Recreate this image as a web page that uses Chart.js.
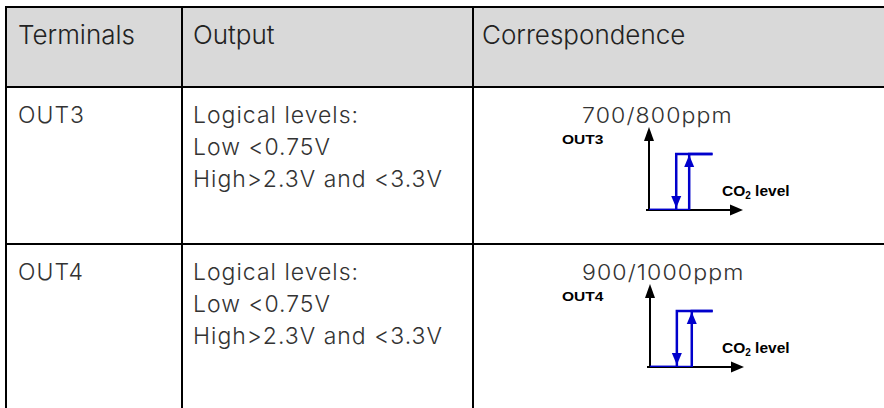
<!DOCTYPE html>
<html>
<head>
<meta charset="utf-8">
<script src="https://cdn.jsdelivr.net/npm/chart.js@4.4.0/dist/chart.umd.min.js"></script>
<style>
  html, body { margin: 0; padding: 0; background: #fff; }
  body { width: 884px; height: 408px; overflow: hidden; position: relative;
         font-family: "Inter Light", Inter, "Liberation Sans", sans-serif; font-weight: 300; color: #333; }
  .rule { position: absolute; background: #000; }
  .head { position: absolute; left: 7px; top: 8px; width: 877px; height: 78px; background: #d9d9d9; }
  .txt { position: absolute; white-space: nowrap; }
  .hd { font-size: 26px; line-height: 26px; color: #222; }
  .bd { font-size: 23px; line-height: 32px; letter-spacing: 1px; }
  .ppm { font-size: 21px; line-height: 21px; letter-spacing: 1px; transform-origin: 0 0; }
  .lbl { font-family: "Liberation Sans", Arial, sans-serif; font-weight: 700; color: #000;
         transform-origin: 0 0; }
  .lbl sub { font-size: 10px; vertical-align: -3px; line-height: 0; }
  .diagram { position: absolute; width: 240px; height: 130px; }
</style>
</head>
<body>
<div class="head"></div>
<div id="grid"></div>
<div id="texts"></div>

<script>
// table text
const headers = ["Terminals", "Output", "Correspondence"];
const outputs = ["OUT3", "OUT4"];
const outputLines = ["Logical levels:", "Low <0.75V", "High>2.3V and <3.3V"];

// hysteresis diagrams (x in ppm CO2, y: 0 = low, 1 = high)
const thresholdLabels = ["700/800ppm", "900/1000ppm"];
const fallPpm = [700, 900];
const risePpm = [800, 1000];
const lowStartPpm = [490, 720];
const highEndPpm = [980, 1140];
const axisEndPpm = [1215, 1350];
const lowLevel = 0;
const highLevel = 1;
const levelAxisMax = 1.48;

const rowTop = [88, 245];
const colLeft = [18, 193, 482];

// grid rules
const grid = document.getElementById("grid");
function rule(l, t, w, h) {
  const d = document.createElement("div");
  d.className = "rule";
  Object.assign(d.style, { left: l + "px", top: t + "px", width: w + "px", height: h + "px" });
  grid.appendChild(d);
}
rule(5, 6, 879, 2);
rule(5, 86, 879, 2);
rule(5, 243, 879, 2);
rule(5, 6, 2, 402);
rule(181, 6, 2, 402);
rule(472, 6, 2, 402);

// texts
const texts = document.getElementById("texts");
function text(cls, l, t, html) {
  const d = document.createElement("div");
  d.className = "txt " + cls;
  d.style.left = l + "px";
  d.style.top = t + "px";
  d.innerHTML = html;
  texts.appendChild(d);
  return d;
}
headers.forEach((h, i) => text("hd", colLeft[i], 22, h));
outputs.forEach((o, r) => {
  const top = rowTop[r] + 11;
  text("bd", colLeft[0], top, o);
  text("bd", colLeft[1], top, outputLines.join("<br>"));
  const dy = r * 157;
  const p = text("ppm", 582, 105 + dy, thresholdLabels[r]);
  p.style.transform = "scaleX(1.1)";
  const o1 = text("lbl", 562, 134 + dy, o);
  o1.style.fontSize = "12.5px"; o1.style.lineHeight = "12.5px";
  o1.style.transform = "scaleX(1.24)";
  const c = text("lbl", 722, 183 + dy, "CO<sub>2</sub> level");
  c.style.fontSize = "15.5px"; c.style.lineHeight = "15px";
});

// axes with arrowheads + blue arrowheads on the switching edges
const hysteresisPlugin = {
  id: "hysteresis",
  beforeDatasetsDraw(chart) {
    const { ctx, chartArea, scales } = chart;
    const x0 = scales.x.getPixelForValue(scales.x.min);
    const y0 = scales.y.getPixelForValue(lowLevel);
    ctx.save();
    ctx.strokeStyle = "#000";
    ctx.fillStyle = "#000";
    ctx.lineWidth = 2;
    ctx.beginPath();
    ctx.moveTo(x0, y0);
    ctx.lineTo(x0, chartArea.top + 10);
    ctx.moveTo(x0 - 3, y0);
    ctx.lineTo(chartArea.right - 10, y0);
    ctx.stroke();
    // y arrow
    ctx.beginPath();
    ctx.moveTo(x0, chartArea.top);
    ctx.lineTo(x0 - 5, chartArea.top + 14);
    ctx.lineTo(x0 + 5, chartArea.top + 14);
    ctx.closePath();
    ctx.fill();
    // x arrow
    ctx.beginPath();
    ctx.moveTo(chartArea.right, y0);
    ctx.lineTo(chartArea.right - 13, y0 - 5.5);
    ctx.lineTo(chartArea.right - 13, y0 + 5.5);
    ctx.closePath();
    ctx.fill();
    ctx.restore();
  },
  afterDatasetsDraw(chart) {
    const { ctx, scales } = chart;
    const i = chart.options.plugins.hysteresis.index;
    const xr = scales.x.getPixelForValue(risePpm[i]);
    const xf = scales.x.getPixelForValue(fallPpm[i]);
    const yh = scales.y.getPixelForValue(highLevel);
    const yl = scales.y.getPixelForValue(lowLevel);
    ctx.save();
    ctx.fillStyle = "#0000cc";
    // up arrow on rising edge
    ctx.beginPath();
    ctx.moveTo(xr, yh + 1);
    ctx.lineTo(xr - 5, yh + 13);
    ctx.lineTo(xr + 5, yh + 13);
    ctx.closePath();
    ctx.fill();
    // down arrow on falling edge
    ctx.beginPath();
    ctx.moveTo(xf, yl - 2);
    ctx.lineTo(xf - 5, yl - 14);
    ctx.lineTo(xf + 5, yl - 14);
    ctx.closePath();
    ctx.fill();
    ctx.restore();
  }
};

outputs.forEach((o, i) => {
  const wrap = document.createElement("div");
  wrap.className = "diagram";
  wrap.style.left = (560 + i) + "px";
  wrap.style.top = (95 + i * 157) + "px";
  const canvas = document.createElement("canvas");
  canvas.width = 240;
  canvas.height = 130;
  wrap.appendChild(canvas);
  document.body.appendChild(wrap);

  const rising = [
    { x: lowStartPpm[i], y: lowLevel },
    { x: risePpm[i], y: lowLevel },
    { x: risePpm[i], y: highLevel },
    { x: highEndPpm[i], y: highLevel }
  ];
  const falling = [
    { x: highEndPpm[i], y: highLevel },
    { x: fallPpm[i], y: highLevel },
    { x: fallPpm[i], y: lowLevel },
    { x: lowStartPpm[i], y: lowLevel }
  ];
  const line = { showLine: true, borderColor: "#0000cc", borderWidth: 2.5, pointRadius: 0,
                 borderJoinStyle: "miter", tension: 0, fill: false };

  new Chart(canvas, {
    type: "scatter",
    data: { datasets: [
      Object.assign({ label: o + " rising", data: rising }, line),
      Object.assign({ label: o + " falling", data: falling }, line)
    ] },
    options: {
      responsive: false,
      animation: false,
      devicePixelRatio: 1,
      layout: { padding: { left: 89, right: 57, top: 32, bottom: 15 } },
      scales: {
        x: { display: false, min: lowStartPpm[i], max: axisEndPpm[i] },
        y: { display: false, min: lowLevel, max: levelAxisMax }
      },
      plugins: { legend: { display: false }, tooltip: { enabled: false }, hysteresis: { index: i } }
    },
    plugins: [hysteresisPlugin]
  });
});
</script>
</body>
</html>
